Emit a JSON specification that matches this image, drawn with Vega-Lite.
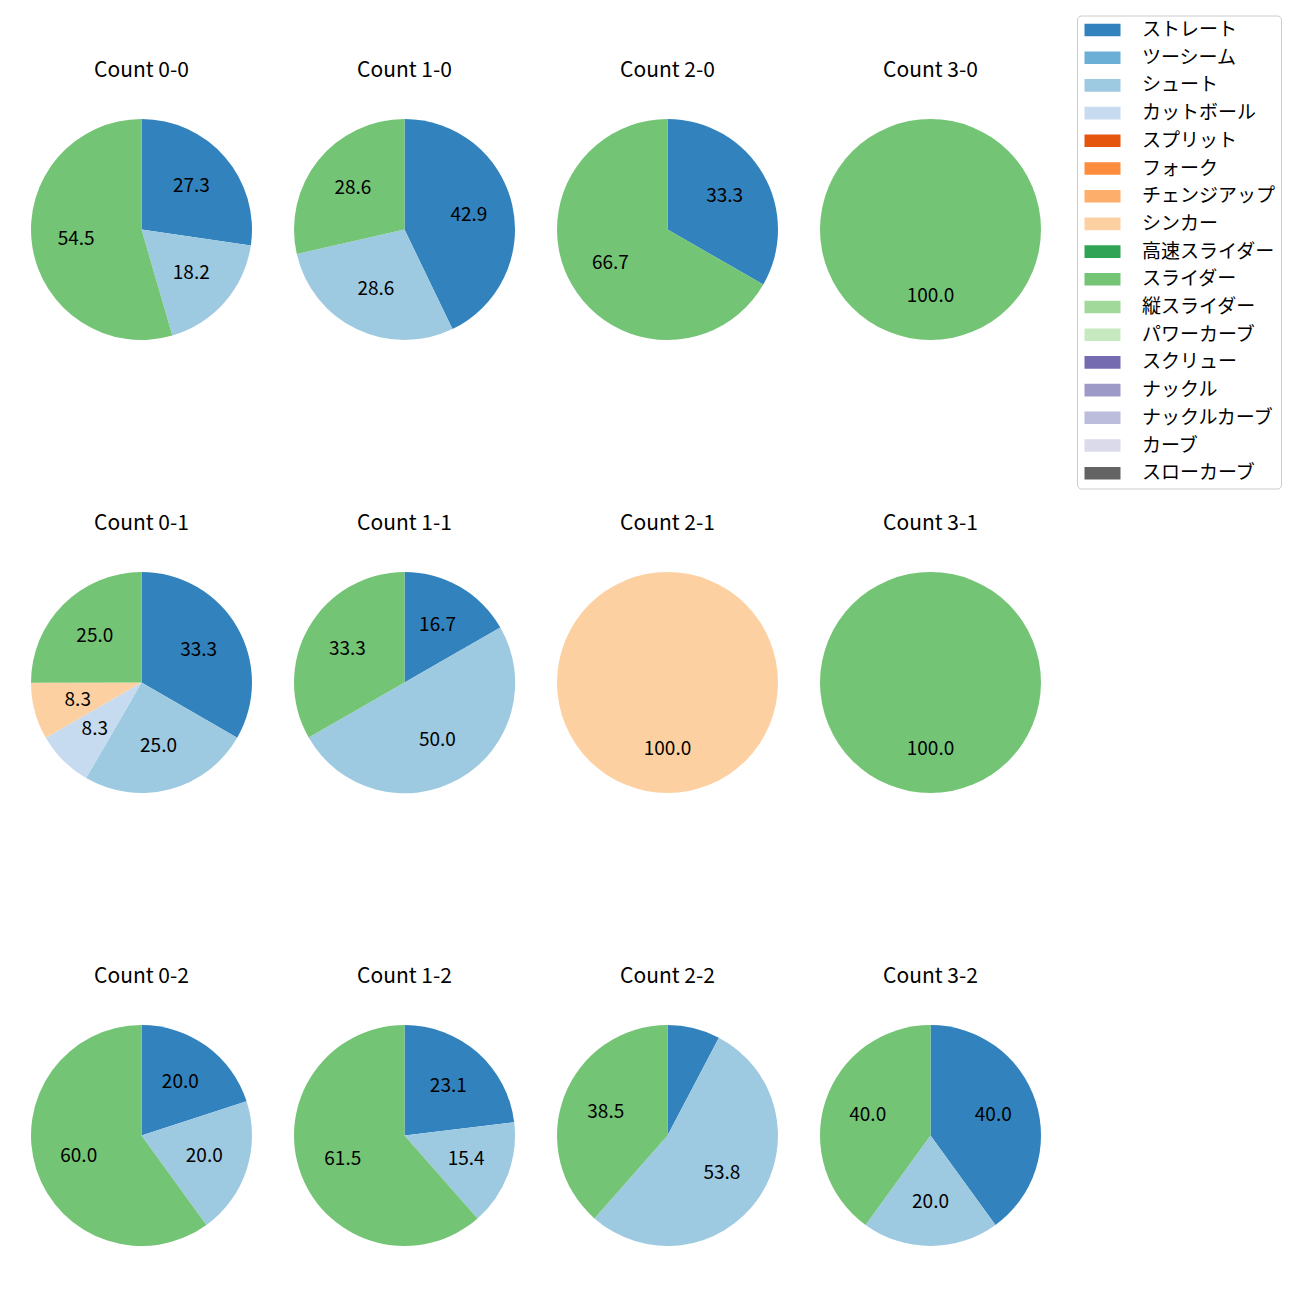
{
  "$schema": "https://vega.github.io/schema/vega-lite/v6.json",
  "padding": {"left": 31, "top": 15, "right": 0, "bottom": 0},
  "data": {"values": [
    {"c": "Count 0-0", "i": 0, "p": "ストレート", "k": 0, "v": 27.3, "l": "27.3"},
    {"c": "Count 0-0", "i": 0, "p": "シュート", "k": 2, "v": 18.2, "l": "18.2"},
    {"c": "Count 0-0", "i": 0, "p": "スライダー", "k": 9, "v": 54.5, "l": "54.5"},
    {"c": "Count 1-0", "i": 1, "p": "ストレート", "k": 0, "v": 42.9, "l": "42.9"},
    {"c": "Count 1-0", "i": 1, "p": "シュート", "k": 2, "v": 28.6, "l": "28.6"},
    {"c": "Count 1-0", "i": 1, "p": "スライダー", "k": 9, "v": 28.6, "l": "28.6"},
    {"c": "Count 2-0", "i": 2, "p": "ストレート", "k": 0, "v": 33.3, "l": "33.3"},
    {"c": "Count 2-0", "i": 2, "p": "スライダー", "k": 9, "v": 66.7, "l": "66.7"},
    {"c": "Count 3-0", "i": 3, "p": "スライダー", "k": 9, "v": 100.0, "l": "100.0"},
    {"c": "Count 0-1", "i": 4, "p": "ストレート", "k": 0, "v": 33.3, "l": "33.3"},
    {"c": "Count 0-1", "i": 4, "p": "シュート", "k": 2, "v": 25.0, "l": "25.0"},
    {"c": "Count 0-1", "i": 4, "p": "カットボール", "k": 3, "v": 8.3, "l": "8.3"},
    {"c": "Count 0-1", "i": 4, "p": "シンカー", "k": 7, "v": 8.3, "l": "8.3"},
    {"c": "Count 0-1", "i": 4, "p": "スライダー", "k": 9, "v": 25.0, "l": "25.0"},
    {"c": "Count 1-1", "i": 5, "p": "ストレート", "k": 0, "v": 16.7, "l": "16.7"},
    {"c": "Count 1-1", "i": 5, "p": "シュート", "k": 2, "v": 50.0, "l": "50.0"},
    {"c": "Count 1-1", "i": 5, "p": "スライダー", "k": 9, "v": 33.3, "l": "33.3"},
    {"c": "Count 2-1", "i": 6, "p": "シンカー", "k": 7, "v": 100.0, "l": "100.0"},
    {"c": "Count 3-1", "i": 7, "p": "スライダー", "k": 9, "v": 100.0, "l": "100.0"},
    {"c": "Count 0-2", "i": 8, "p": "ストレート", "k": 0, "v": 20.0, "l": "20.0"},
    {"c": "Count 0-2", "i": 8, "p": "シュート", "k": 2, "v": 20.0, "l": "20.0"},
    {"c": "Count 0-2", "i": 8, "p": "スライダー", "k": 9, "v": 60.0, "l": "60.0"},
    {"c": "Count 1-2", "i": 9, "p": "ストレート", "k": 0, "v": 23.1, "l": "23.1"},
    {"c": "Count 1-2", "i": 9, "p": "シュート", "k": 2, "v": 15.4, "l": "15.4"},
    {"c": "Count 1-2", "i": 9, "p": "スライダー", "k": 9, "v": 61.5, "l": "61.5"},
    {"c": "Count 2-2", "i": 10, "p": "ストレート", "k": 0, "v": 7.7, "l": ""},
    {"c": "Count 2-2", "i": 10, "p": "シュート", "k": 2, "v": 53.8, "l": "53.8"},
    {"c": "Count 2-2", "i": 10, "p": "スライダー", "k": 9, "v": 38.5, "l": "38.5"},
    {"c": "Count 3-2", "i": 11, "p": "ストレート", "k": 0, "v": 40.0, "l": "40.0"},
    {"c": "Count 3-2", "i": 11, "p": "シュート", "k": 2, "v": 20.0, "l": "20.0"},
    {"c": "Count 3-2", "i": 11, "p": "スライダー", "k": 9, "v": 40.0, "l": "40.0"}
  ]},
  "facet": {
    "field": "c",
    "type": "nominal",
    "sort": {"field": "i", "op": "min"},
    "header": {
      "title": null,
      "labelFontSize": 21,
      "labelFont": "Noto Sans CJK JP",
      "labelColor": "black",
      "labelPadding": 21.5,
      "labelBaseline": "alphabetic"
    }
  },
  "columns": 4,
  "spacing": {"column": 42, "row": 172},
  "spec": {
    "width": 221,
    "height": 221,
    "encoding": {
      "theta": {"field": "v", "type": "quantitative", "stack": true},
      "order": {"field": "k", "type": "quantitative"}
    },
    "layer": [
      {
        "mark": {"type": "arc", "outerRadius": 110.5},
        "encoding": {
          "color": {
            "field": "p",
            "type": "nominal",
            "scale": {
              "domain": ["ストレート", "ツーシーム", "シュート", "カットボール", "スプリット", "フォーク", "チェンジアップ", "シンカー", "高速スライダー", "スライダー", "縦スライダー", "パワーカーブ", "スクリュー", "ナックル", "ナックルカーブ", "カーブ", "スローカーブ"],
              "range": ["#3182bd", "#6baed6", "#9ecae1", "#c6dbef", "#e6550d", "#fd8d3c", "#fdae6b", "#fdd0a2", "#31a354", "#74c476", "#a1d99b", "#c7e9c0", "#756bb1", "#9e9ac8", "#bcbddc", "#dadaeb", "#636363"]
            },
            "legend": {
              "title": null,
              "orient": "none",
              "legendX": 1046,
              "legendY": -103.5,
              "symbolType": "M-2,-0.7L2,-0.7L2,0.7L-2,0.7Z",
              "symbolSize": 324,
              "symbolOffset": 11,
              "symbolStrokeWidth": 0,
              "labelFontSize": 19,
              "labelFont": "Noto Sans CJK JP",
              "labelColor": "black",
              "labelOffset": 30,
              "rowPadding": 7.7,
              "padding": 5,
              "strokeColor": "#cccccc",
              "fillColor": "white",
              "cornerRadius": 4,
              "values": ["ストレート", "ツーシーム", "シュート", "カットボール", "スプリット", "フォーク", "チェンジアップ", "シンカー", "高速スライダー", "スライダー", "縦スライダー", "パワーカーブ", "スクリュー", "ナックル", "ナックルカーブ", "カーブ", "スローカーブ"]
            }
          }
        }
      },
      {
        "mark": {"type": "text", "radius": 66, "fontSize": 19, "font": "Noto Sans CJK JP", "color": "black"},
        "encoding": {
          "text": {"field": "l", "type": "nominal"}
        }
      }
    ]
  },
  "config": {"view": {"stroke": null}}
}
